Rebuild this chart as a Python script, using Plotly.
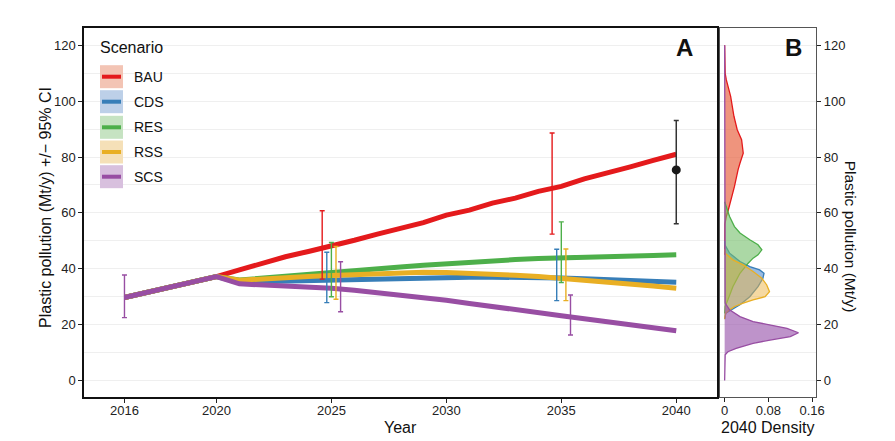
import plotly.graph_objects as go

# ---------------- data ----------------
years = [2016, 2020] + list(range(2021, 2041))
scenarios = ["BAU", "CDS", "RES", "RSS", "SCS"]

bau = [29.7, 37.2, 39.6, 42.0, 44.3, 46.2, 48.0, 50.2, 52.4, 54.5, 56.5, 59.2, 61.0, 63.5, 65.3, 67.7,
       69.5, 72.2, 74.2, 76.5, 78.8, 81.0]
cds = [29.7, 37.2, 35.2, 35.4, 35.7, 35.9, 36.1, 36.3, 36.5, 36.7, 36.8, 36.9, 37.0, 37.0, 37.0, 36.9,
       36.7, 36.4, 36.1, 35.8, 35.5, 35.2]
res = [29.7, 37.2, 36.0, 36.6, 37.3, 37.9, 38.5, 39.2, 39.9, 40.6, 41.3, 41.9, 42.4, 42.8, 43.3, 43.7,
       44.0, 44.3, 44.5, 44.7, 44.8, 45.0]
rss = [29.7, 37.2, 35.9, 36.2, 36.7, 37.2, 37.6, 38.0, 38.3, 38.6, 38.8, 38.7, 38.5, 38.2, 37.7, 37.2,
       36.6, 36.0, 35.3, 34.5, 33.8, 33.0]
scs = [29.7, 37.2, 34.6, 34.3, 34.0, 33.6, 33.0, 32.3, 31.5, 30.6, 29.7, 28.7, 27.6, 26.6, 25.5, 24.3,
       23.2, 22.1, 21.0, 19.9, 18.8, 17.8]
series = {"BAU": bau, "CDS": cds, "RES": res, "RSS": rss, "SCS": scs}

# 95% CI bars (year, low, high)
ci_years = {"BAU": [2025, 2035], "CDS": [2025, 2035], "RES": [2025, 2035],
            "RSS": [2025, 2035], "SCS": [2016, 2025, 2035]}
ci_low = {"BAU": [36.3, 52.4], "CDS": [27.9, 28.6], "RES": [30.0, 35.1],
          "RSS": [29.1, 28.6], "SCS": [22.5, 24.6, 16.3]}
ci_high = {"BAU": [60.8, 88.6], "CDS": [45.9, 47.0], "RES": [49.4, 56.8],
           "RSS": [48.0, 47.1], "SCS": [37.8, 42.5, 30.6]}

# 2040 point with CI
obs_year = [2040]
obs_val = [75.4]
obs_low = [56.1]
obs_high = [93.1]

# 2040 density (value, density)
dens_val = {
    "BAU": [120, 110, 107.7, 101.7, 94.6, 89.8, 86.2, 81.4, 77.8, 75.4, 69.5, 64.7, 60.5, 58.7, 56.0, 45],
    "CDS": [50, 48.6, 45.6, 42.6, 40.8, 39.6, 38.4, 36.6, 33.6, 30.0, 27.1, 25.3, 24.1, 22],
    "RES": [64, 62.9, 58.7, 55.1, 52.8, 50.4, 48.6, 46.8, 45.0, 43.8, 42.0, 38.4, 33.6, 28.9, 26.5, 24],
    "RSS": [47, 45.6, 43.2, 41.4, 39.0, 36.6, 34.2, 31.8, 30.0, 28.9, 27.7, 26.5, 25.3, 24.1, 22],
    "SCS": [120, 30, 27.7, 25.3, 22.9, 21.1, 19.9, 18.7, 17.1, 15.7, 14.5, 13.3, 11.5, 10.3, 9.2, 0],
}
dens_x = {
    "BAU": [0, 0.001, 0.003, 0.011, 0.017, 0.023, 0.031, 0.034, 0.028, 0.0245, 0.018, 0.012, 0.006, 0.003, 0.0005, 0],
    "CDS": [0, 0.0005, 0.009, 0.028, 0.046, 0.064, 0.072, 0.070, 0.061, 0.046, 0.028, 0.012, 0.002, 0],
    "RES": [0, 0.002, 0.009, 0.018, 0.028, 0.046, 0.061, 0.068, 0.061, 0.052, 0.043, 0.028, 0.015, 0.006, 0.001, 0],
    "RSS": [0, 0.001, 0.015, 0.034, 0.052, 0.068, 0.077, 0.082, 0.074, 0.052, 0.034, 0.018, 0.009, 0.002, 0],
    "SCS": [0, 0, 0.001, 0.009, 0.028, 0.052, 0.083, 0.114, 0.135, 0.120, 0.083, 0.052, 0.021, 0.006, 0.001, 0],
}

x_ticks = [2016, 2020, 2025, 2030, 2035, 2040]
y_ticks = [0, 20, 40, 60, 80, 100, 120]
dens_ticks = [0, 0.08, 0.16]
dens_ticktext = ["0", "0.08", "0.16"]

# ---------------- style ----------------
line_col = {"BAU": "#E41A1C", "CDS": "#377EB8", "RES": "#4DAF4A", "RSS": "#E9AF24", "SCS": "#984EA3"}
fill_col = {"BAU": "rgba(230,90,55,0.65)", "CDS": "rgba(85,140,205,0.6)", "RES": "rgba(115,190,105,0.6)",
            "RSS": "rgba(236,180,70,0.5)", "SCS": "rgba(150,80,170,0.62)"}
legend_box = {"BAU": "#F3C4B4", "CDS": "#BDD0E8", "RES": "#C6E3C2", "RSS": "#F5E0B8", "SCS": "#D8C0DE"}
dodge = {"BAU": -0.4, "CDS": -0.2, "RES": 0.0, "RSS": 0.2, "SCS": 0.4}

FONT = "Liberation Sans, Arial, Helvetica, sans-serif"
OX, OY = 8, 8                       # page body margin
W, H = 887, 433
ML, MT = 84 - OX, 28 - OY
MR = W - (815.7 - OX)
MB = H - (397 - OY)
PW, PH = W - ML - MR, H - MT - MB


def px(x):
    return (x - OX - ML) / PW


def py(y):
    return (H - MB - (y - OY)) / PH


fig = go.Figure()

# lines
for s in scenarios:
    fig.add_trace(go.Scatter(x=years, y=series[s], mode="lines", name=s,
                             line=dict(color=line_col[s], width=5), showlegend=False,
                             xaxis="x", yaxis="y"))

# CI error bars
for s in scenarios:
    xs = [yr + (dodge[s] if yr != 2016 else 0.0) for yr in ci_years[s]]
    mids = [(lo + hi) / 2 for lo, hi in zip(ci_low[s], ci_high[s])]
    fig.add_trace(go.Scatter(
        x=xs, y=mids, mode="markers", marker=dict(size=1, opacity=0, color=line_col[s]),
        error_y=dict(type="data", symmetric=False,
                     array=[hi - m for hi, m in zip(ci_high[s], mids)],
                     arrayminus=[m - lo for lo, m in zip(ci_low[s], mids)],
                     color=line_col[s], thickness=1.4, width=2.5),
        showlegend=False, hoverinfo="skip", xaxis="x", yaxis="y"))

fig.add_trace(go.Scatter(
    x=obs_year, y=obs_val, mode="markers", marker=dict(size=9, color="#1A1A1A"),
    error_y=dict(type="data", symmetric=False,
                 array=[h - v for h, v in zip(obs_high, obs_val)],
                 arrayminus=[v - l for l, v in zip(obs_low, obs_val)],
                 color="#333333", thickness=1.5, width=2.5),
    showlegend=False, xaxis="x", yaxis="y"))

# densities
for s in scenarios:
    fig.add_trace(go.Scatter(x=dens_x[s], y=dens_val[s], mode="lines", fill="tozerox",
                             fillcolor=fill_col[s], line=dict(color=line_col[s], width=1.3),
                             showlegend=False, xaxis="x2", yaxis="y2"))

shapes = []
annotations = []

# custom legend
annotations.append(dict(text="Scenario", x=px(98), y=py(48), xref="paper", yref="paper",
                        xanchor="left", yanchor="middle", showarrow=False,
                        font=dict(family=FONT, size=16, color="#111")))
row_y = [76.7, 101.7, 127.3, 152.0, 176.7]
for s, cy in zip(scenarios, row_y):
    shapes.append(dict(type="rect", xref="paper", yref="paper", x0=px(100), x1=px(123),
                       y0=py(cy + 11.5), y1=py(cy - 11.5), fillcolor=legend_box[s], line=dict(width=0),
                       layer="above"))
    shapes.append(dict(type="line", xref="paper", yref="paper", x0=px(102), x1=px(121),
                       y0=py(cy), y1=py(cy), line=dict(color=line_col[s], width=4), layer="above"))
    annotations.append(dict(text=s, x=px(131.5), y=py(cy), xref="paper", yref="paper",
                            xanchor="left", yanchor="middle", showarrow=False,
                            font=dict(family=FONT, size=14, color="#111")))

# panel letters
annotations.append(dict(text="<b>A</b>", x=px(684.3), y=py(47.5), xref="paper", yref="paper",
                        xanchor="center", yanchor="middle", showarrow=False,
                        font=dict(family="Liberation Sans Narrow, " + FONT, size=24, color="#111")))
annotations.append(dict(text="<b>B</b>", x=px(793.3), y=py(47.5), xref="paper", yref="paper",
                        xanchor="center", yanchor="middle", showarrow=False,
                        font=dict(family="Liberation Sans Narrow, " + FONT, size=24, color="#111")))

# axis titles placed precisely
annotations.append(dict(text="Plastic pollution (Mt/y) +/\u2212 95% CI", x=px(45), y=py(207),
                        xref="paper", yref="paper", xanchor="center", yanchor="middle",
                        textangle=-90, showarrow=False, font=dict(family=FONT, size=16, color="#111")))
annotations.append(dict(text="Plastic pollution (Mt/y)", x=px(851), y=py(237), xref="paper", yref="paper",
                        xanchor="center", yanchor="middle", textangle=90, showarrow=False,
                        font=dict(family=FONT, size=15.5, color="#111")))
annotations.append(dict(text="Year", x=px(400), y=py(438), xref="paper", yref="paper",
                        xanchor="center", yanchor="bottom", showarrow=False,
                        font=dict(family=FONT, size=16, color="#111")))
annotations.append(dict(text="2040 Density", x=px(767.5), y=py(438), xref="paper", yref="paper",
                        xanchor="center", yanchor="bottom", showarrow=False,
                        font=dict(family=FONT, size=16, color="#111")))

tickfont = dict(family=FONT, size=13, color="#222")
grid = "#EFEFEF"

fig.update_layout(
    width=W, height=H, autosize=False, margin=dict(l=ML, r=MR, t=MT, b=MB, pad=0, autoexpand=False),
    paper_bgcolor="white", plot_bgcolor="white",
    font=dict(family=FONT),
    shapes=shapes, annotations=annotations, showlegend=False,
    xaxis=dict(domain=[0, px(716.7)], range=[2014.24, 2041.77], tickvals=x_ticks, automargin=False,
               ticks="outside", ticklen=4, tickcolor="#222", tickfont=tickfont, ticklabelstandoff=-3,
               showgrid=False, zeroline=False, showline=True, mirror=True,
               linecolor="#111", linewidth=1.5),
    yaxis=dict(domain=[0, 1], range=[-5.9, 126.2], tickvals=y_ticks, automargin=False,
               ticks="outside", ticklen=4, tickcolor="#222", tickfont=tickfont,
               showgrid=True, gridcolor=grid, gridwidth=1,
               minor=dict(dtick=10, tick0=0, showgrid=True, gridcolor=grid, gridwidth=1),
               zeroline=False, showline=True, mirror=True, linecolor="#111", linewidth=1.5),
    xaxis2=dict(domain=[px(720), 1], anchor="y2", range=[-0.008, 0.167], tickvals=dens_ticks,
                ticktext=dens_ticktext, ticks="outside", ticklen=4, tickcolor="#222", tickfont=tickfont,
                ticklabelstandoff=-3,
                automargin=False, showgrid=False, zeroline=False, showline=True, mirror=True,
                linecolor="#555", linewidth=1.2),
    yaxis2=dict(domain=[0, 1], anchor="x2", side="right", range=[-5.9, 126.2], tickvals=y_ticks,
                ticks="outside", ticklen=4, tickcolor="#222", tickfont=tickfont, automargin=False,
                showgrid=True, gridcolor=grid, gridwidth=1,
                minor=dict(dtick=10, tick0=0, showgrid=True, gridcolor=grid, gridwidth=1),
                zeroline=False, showline=True, mirror=True, linecolor="#555", linewidth=1.2),
)

fig.write_html("out.html")
